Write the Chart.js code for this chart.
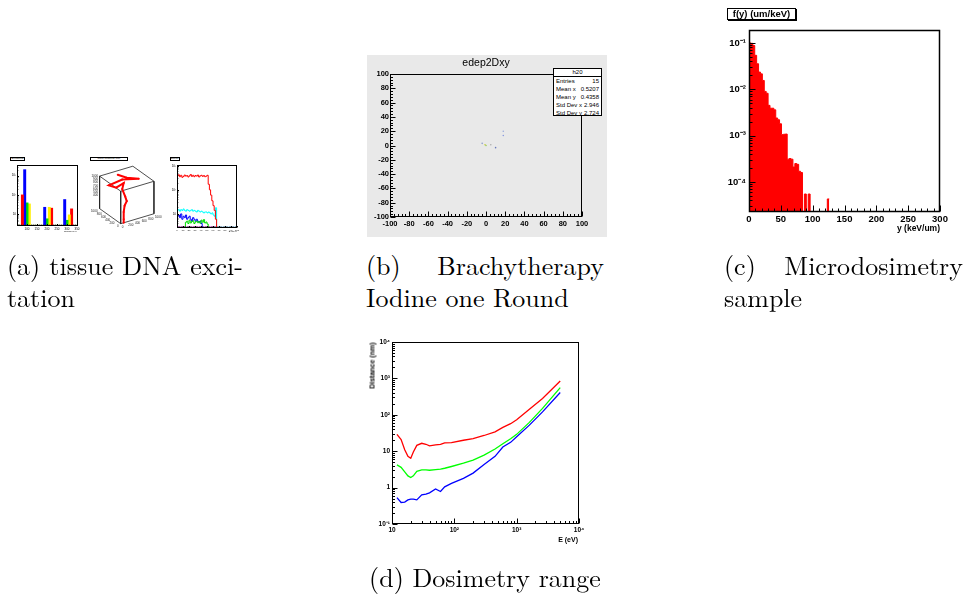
<!DOCTYPE html>
<html>
<head>
<meta charset="utf-8">
<script src="https://cdn.jsdelivr.net/npm/chart.js@4.4.1/dist/chart.umd.min.js"></script>
<style>
  html, body { margin: 0; padding: 0; background: #fff; }
  #page { position: relative; width: 966px; height: 597px; overflow: hidden; }
  canvas, .abs { position: absolute; }
  .cap { position: absolute; font-family: 'Latin Modern Roman', 'Liberation Serif', serif; font-size: 26px; line-height: 32px; color: #000; white-space: nowrap; }
  .just { text-align: justify; text-align-last: justify; white-space: normal; }
  .rl { position: absolute; font-family: 'Liberation Sans', Arial, sans-serif; font-weight: bold; color: #000; white-space: nowrap; }
  .tbox { position: absolute; box-sizing: border-box; border: 1px solid #000; background: #fff; text-align: center; overflow: hidden; white-space: nowrap;
          font-family: 'Liberation Sans', Arial, sans-serif; color: #000; }
  #stats { position: absolute; left: 553px; top: 68px; width: 49px; height: 48px; box-sizing: border-box; border: 1px solid #000; background: #fff;
           font-family: 'Liberation Sans', Arial, sans-serif; font-size: 6px; color: #000; }
  #stats .hd { height: 7px; line-height: 7px; text-align: center; border-bottom: 1px solid #000; }
  #stats .row { display: flex; justify-content: space-between; height: 8px; line-height: 8px; padding: 0 2px; }
</style>
</head>
<body>
<div id="page">
  <!-- (a) three small ROOT panels -->
  <canvas id="excChart" width="80" height="76" style="left:5px;top:160px"></canvas>
  <div class="tbox" style="left:10px;top:157px;width:15px;height:4px;font-size:2.5px;line-height:2.5px">Excitations</div>
  <div class="rl" style="left:60px;top:229.5px;width:17px;text-align:right;font-size:2.5px;line-height:3px;font-weight:normal">Energy(eV)</div>

  <canvas id="trackChart" width="85" height="82" style="left:85px;top:152px"></canvas>
  <div class="tbox" style="left:90px;top:157px;width:38px;height:4px;font-size:2.5px;line-height:2.5px">Track Positions (nm)</div>

  <canvas id="specChart" width="80" height="86" style="left:165px;top:152px"></canvas>
  <div class="tbox" style="left:170px;top:157px;width:10px;height:4px;font-size:2.5px;line-height:2.5px">Energy</div>
  <div class="rl" style="left:220px;top:230px;width:17px;text-align:right;font-size:2.5px;line-height:3px;font-weight:normal">E (keV)</div>

  <!-- (b) edep2Dxy -->
  <div class="abs" style="left:367px;top:55px;width:240px;height:182px;background:#e9e9e9"></div>
  <canvas id="edepChart" width="240" height="182" style="left:367px;top:55px"></canvas>
  <div class="rl" style="left:436px;top:56px;width:100px;text-align:center;font-size:10.5px;line-height:12px;font-weight:normal">edep2Dxy</div>
  <div id="stats"></div>

  <!-- (c) microdosimetry -->
  <canvas id="fyChart" width="250" height="215" style="left:705px;top:20px"></canvas>
  <div class="tbox" style="left:727px;top:8px;width:69px;height:12px;font-size:9.5px;line-height:10px;font-weight:bold;box-shadow:1px 1px 0 #000">f(y) (um/keV)</div>
  <div class="rl" style="left:870px;top:223px;width:70px;text-align:right;font-size:8.5px;line-height:10px">y (keV/um)</div>

  <!-- (d) dosimetry range -->
  <canvas id="rangeChart" width="240" height="215" style="left:355px;top:335px"></canvas>
  <div class="rl" style="left:332px;top:377.5px;width:80px;height:9px;text-align:right;font-size:7px;line-height:9px;transform:rotate(-90deg)">Distance (nm)</div>
  <div class="rl" style="left:518px;top:535px;width:60px;text-align:right;font-size:7px;line-height:10px">E (eV)</div>

  <!-- captions -->
  <div class="cap just" style="left:7px;top:248.5px;width:236px">(a) tissue DNA exci-</div>
  <div class="cap" style="left:7px;top:280.5px">tation</div>
  <div class="cap just" style="left:366px;top:248.5px;width:238px">(b) Brachytherapy</div>
  <div class="cap" style="left:366px;top:280.5px">Iodine one Round</div>
  <div class="cap just" style="left:724px;top:248.5px;width:239px">(c) Microdosimetry</div>
  <div class="cap" style="left:724px;top:280.5px">sample</div>
  <div class="cap" style="left:366px;top:561px;width:238px;text-align:center">(d) Dosimetry range</div>
</div>

<script>
// --- (a) left: excitation counts per process, three groups ---
const EXC_X = [100, 200, 300];
const EXC_RED_LEFT = [98, null, null];
const EXC_BLUE = [2050, 22, 56];
const EXC_GREEN = [37.5, 5.5, 4.6];
const EXC_YELLOW = [33, 22, 8.8];
const EXC_RED = [null, 19.8, 18.2];
const EXC_BASE = 2.45;
const EXC_X_TICKS = [100, 150, 200, 250, 300, 350];
const EXC_Y_TICKS = [10, 100, 1000];

// --- (a) middle: 3D track (nm) ---
const TRACK_X = [966, 700, 477, 709, 667, 460, 566, 456, 291, 211, 182, 127, 17, 0];
const TRACK_Y = [524, 627, 848, 496, 69, 156, 449, 336, 321, 316, 233, 171, 101, 90];
const TRACK_Z = [900, 900, 900, 880, 850, 850, 850, 750, 600, 500, 400, 250, 100, 0];
const TRACK_Z_TICKS = [400, 500, 600, 700, 800, 900, 1000];
const TRACK_XY_TICKS = [0, 200, 400, 600, 800, 1000];

// --- (a) right: spectra, bins of 2 keV from 0 ---
const SPEC_BIN = 2;
const SPEC_RED = [380, 420, 350, 400, 330, 360, 410, 370, 390, 340, 380, 430, 360, 400, 350, 390, 370, 410, 340, 380,
  400, 360, 390, 350, 370, 400, 170, 100, 60, 35, 22, 14, 6, 0, 0, 0, 0, 0, 0, 0,
  0, 0, 0, 0, 0, 0, 0, 0, 0, 0];
const SPEC_CYAN = [14, 15, 13, 15, 14, 16, 14, 13, 15, 14, 13, 14, 15, 13, 14, 13, 12, 14, 13, 12,
  13, 12, 11, 12, 12, 11, 12, 11, 10, 11, 9, 8, 18, 0, 0, 0, 0, 0, 0, 0,
  0, 0, 0, 0, 0, 0, 0, 0, 0, 0];
const SPEC_BLUE = [8, 9, 7, 10, 6, 8, 7, 9, 6, 7, 8, 6, 5, 7, 6, 5, 6, 5, 4.5, 5,
  4, 0, 0, 0, 0, 0, 0, 0, 0, 0, 0, 0, 0, 0, 0, 0, 0, 0, 0, 0,
  0, 0, 0, 0, 0, 0, 0, 0, 0, 0];
const SPEC_GREEN = [0, 0, 0, 0, 0, 0, 0, 4.5, 5, 4, 5.5, 4.2, 4.8, 5.2, 4, 4.6, 5, 4.3, 4.8, 4.1,
  5.5, 4.5, 5.8, 4.2, 4.6, 3.8, 0, 0, 0, 0, 0, 0, 0, 0, 0, 0, 0, 0, 0, 0,
  0, 0, 0, 0, 0, 0, 0, 0, 0, 0];
const SPEC_MAGENTA_RANGE = [0, 64];
const SPEC_LIGHTBLUE_RANGE = [64, 100];
const SPEC_X_TICKS = [0, 10, 20, 30, 40, 50, 60, 70, 80, 90, 100];
const SPEC_Y_TICKS = [10, 100, 1000];

// --- (b) edep2Dxy ---
const EDEP_X = [-4, -1, 0, 5, 10, 18, 18];
const EDEP_Y = [3, 1, 0, 1, -3, 14, 20];
const EDEP_COLORS = ["#8899cc", "#cccc33", "#99cc66", "#aaaaaa", "#6677bb", "#8899dd", "#99aadd"];
const EDEP_TICKS = [-100, -80, -60, -40, -20, 0, 20, 40, 60, 80, 100];
const EDEP_STATS = [
  ["Entries", "15"],
  ["Mean x", "0.5207"],
  ["Mean y", "0.4358"],
  ["Std Dev x", "2.946"],
  ["Std Dev y", "2.724"],
];

// --- (c) f(y), bins of 3 keV/um from 0 ---
const FY_BIN = 3;
const FY_VALUES = [0.1, 0.098, 0.088, 0.054, 0.0355, 0.0235, 0.0215, 0.0155, 0.009, 0.0082,
  0.0045, 0.0039, 0.0039, 0.0036, 0.0024, 0.0022, 0.0018, 0.00105, 0.00107, 0.00108,
  0.00031, 0.00032, 0.00031, 0.00021, 0.00025, 0.00024, 0.00017, 0.00016, 0, 5.5e-5,
  0, 5.5e-5, 0, 0, 0, 0, 0, 0, 0, 0, 0, 4.3e-5];
const FY_X_TICKS = [0, 50, 100, 150, 200, 250, 300];
const FY_Y_TICKS = [1e-4, 1e-3, 1e-2, 1e-1];

// --- (d) range vs energy ---
const RANGE_E = [12, 14, 16, 18, 20, 22, 25, 30, 35, 40, 50, 60, 70, 90, 140, 200, 300, 450, 600, 800, 1000, 1600, 2600, 5000];
const RANGE_RED = [29, 21, 11, 7.2, 6.4, 9.5, 14.5, 16.5, 15.5, 14, 15, 15.5, 17, 17.3, 20, 22, 27, 34, 45, 57, 73, 142, 280, 850];
const RANGE_GREEN = [4.2, 3.6, 2.7, 2.1, 1.9, 2.1, 2.8, 3.05, 3.05, 3.0, 3.1, 3.2, 3.4, 3.8, 4.7, 5.7, 7.8, 11.5, 16, 22, 29, 62, 150, 560];
const RANGE_BLUE = [0.53, 0.39, 0.4, 0.46, 0.48, 0.48, 0.46, 0.63, 0.66, 0.72, 0.92, 0.78, 1.05, 1.3, 1.8, 2.5, 4.3, 7.2, 13, 17.5, 25, 52, 120, 410];
const RANGE_X_TICKS = [10, 100, 1000, 10000];
const RANGE_Y_TICKS = [0.1, 1, 10, 100, 1000, 10000];

// --- helpers ---
const FONT = "'Liberation Sans', Arial, sans-serif";
const SUP = { "-": "\u207B", 0: "\u2070", 1: "\u00B9", 2: "\u00B2", 3: "\u00B3", 4: "\u2074", 5: "\u2075", 6: "\u2076", 7: "\u2077", 8: "\u2078", 9: "\u2079" };

function powLabel(v) {
  const l = Math.log10(v);
  const e = Math.round(l);
  if (Math.abs(l - e) > 1e-6) return "";
  if (e === 0) return "1";
  if (e === 1) return "10";
  return "10" + String(e).split("").map((c) => SUP[c]).join("");
}

function axis(o) {
  return {
    type: o.type || "linear",
    min: o.min,
    max: o.max,
    reverse: !!o.reverse,
    display: o.display !== false,
    offset: false,
    grid: { display: false, drawTicks: false, offset: false },
    border: { display: false },
    afterFit: (s) => {
      if (o.size === undefined) return;
      if (s.isHorizontal()) s.height = o.size;
      else s.width = o.size;
    },
    afterBuildTicks: (s) => {
      if (o.ticks) s.ticks = o.ticks.map((v) => ({ value: v }));
    },
    ticks: {
      autoSkip: false,
      maxRotation: 0,
      minRotation: 0,
      padding: o.pad === undefined ? 2 : o.pad,
      color: "#000",
      font: { family: FONT, weight: o.bold === false ? "normal" : "bold", size: o.font || 7 },
      callback: o.label || ((v) => String(v)),
    },
  };
}

function markValues(s, ax) {
  const out = [];
  if (s.type === "logarithmic") {
    const e0 = Math.floor(Math.log10(s.min));
    const e1 = Math.ceil(Math.log10(s.max));
    for (let e = e0; e <= e1; e++) {
      for (let m = 1; m <= 9; m++) {
        const v = m * Math.pow(10, e);
        if (v >= s.min * 0.9999 && v <= s.max * 1.0001) out.push([v, m === 1]);
      }
    }
  } else {
    const k0 = Math.ceil(s.min / ax.minor - 1e-9);
    for (let k = k0; k * ax.minor <= s.max + 1e-9; k++) {
      const v = k * ax.minor;
      out.push([v, Math.abs(v / ax.major - Math.round(v / ax.major)) < 1e-6]);
    }
  }
  return out;
}

// ROOT style frame with ticks pointing into the plot
function rootAxes(cfg) {
  return {
    id: "rootAxes",
    afterDatasetsDraw(chart) {
      const { ctx, chartArea: a } = chart;
      const l = Math.round(a.left) + 0.5;
      const r = Math.round(a.right) - 0.5;
      const t = Math.round(a.top) + 0.5;
      const b = Math.round(a.bottom) - 0.5;
      ctx.save();
      ctx.strokeStyle = "#000";
      ctx.lineWidth = cfg.lineWidth || 1;
      ctx.strokeRect(l, t, r - l, b - t);
      ctx.lineWidth = cfg.tickWidth || 1;
      cfg.axes.forEach((ax) => {
        const s = chart.scales[ax.id];
        markValues(s, ax).forEach(([v, major]) => {
          const p = Math.round(s.getPixelForValue(v)) + 0.5;
          const len = major ? ax.len : ax.len * 0.5;
          ctx.beginPath();
          if (s.isHorizontal()) {
            ctx.moveTo(p, b);
            ctx.lineTo(p, b - len);
          } else {
            ctx.moveTo(l, p);
            ctx.lineTo(l + len, p);
          }
          ctx.stroke();
        });
      });
      ctx.restore();
    },
  };
}

function makeChart(id, type, datasets, scales, padding, plugins) {
  return new Chart(document.getElementById(id), {
    type: type,
    data: { datasets: datasets },
    options: {
      responsive: false,
      animation: false,
      events: [],
      layout: { padding: padding },
      plugins: { legend: { display: false }, tooltip: { enabled: false } },
      scales: scales,
    },
    plugins: plugins || [],
  });
}

function histPoints(values, width, floor) {
  const pts = values.map((v, i) => ({ x: i * width, y: v > 0 ? v : floor }));
  pts.push({ x: values.length * width, y: values[values.length - 1] > 0 ? values[values.length - 1] : floor });
  return pts;
}

function stepLine(values, width, floor, color, lw) {
  return {
    type: "line",
    data: histPoints(values, width, floor),
    borderColor: color,
    borderWidth: lw,
    pointRadius: 0,
    stepped: "before",
    fill: false,
  };
}

// projection of the 3D box (box units 0..1000 nm on each axis)
function project(x, y, z) {
  const u = x / 1000, w = y / 1000, h = z / 1000;
  return { x: 35 - 23.3 * u + 36.7 * w, y: 75 - 16.7 * u - 11 * w - 36 * h };
}

// --- (a) left ---
function excBars(values, color) {
  return {
    type: "bar",
    data: EXC_X.map((x, i) => ({ x: x, y: values[i] })),
    backgroundColor: color,
    borderWidth: 0,
    barThickness: 2.3,
  };
}
makeChart(
  "excChart",
  "bar",
  [
    excBars(EXC_RED_LEFT, "#ff0000"),
    excBars(EXC_BLUE, "#0000ff"),
    excBars(EXC_GREEN, "#00dd00"),
    excBars(EXC_YELLOW, "#ffee00"),
    excBars(EXC_RED, "#ff0000"),
    {
      type: "line",
      data: [{ x: 50, y: EXC_BASE }, { x: 355, y: EXC_BASE }],
      borderColor: "#8c9c3c",
      borderWidth: 1.6,
      pointRadius: 0,
    },
  ],
  {
    x: axis({ min: 50, max: 355, size: 10, ticks: EXC_X_TICKS, font: 3, pad: 1, bold: false }),
    y: axis({ type: "logarithmic", min: 2.3, max: 3600, size: 12, ticks: EXC_Y_TICKS, font: 3, pad: 1, label: powLabel, bold: false }),
  },
  { top: 5, right: 7, left: 0, bottom: 0 },
  [rootAxes({ lineWidth: 1, axes: [{ id: "x", len: 1.5, major: 50, minor: 10 }, { id: "y", len: 1.5 }] })]
);

// --- (a) middle ---
const CUBE_EDGES = [
  [[1000, 0, 1000], [1000, 1000, 1000]], [[1000, 1000, 1000], [0, 1000, 1000]],
  [[0, 1000, 1000], [0, 0, 1000]], [[0, 0, 1000], [1000, 0, 1000]],
  [[1000, 0, 1000], [1000, 0, 0]], [[0, 0, 1000], [0, 0, 0]], [[0, 1000, 1000], [0, 1000, 0]],
  [[1000, 0, 0], [0, 0, 0]], [[0, 0, 0], [0, 1000, 0]],
];
const cubePts = [];
CUBE_EDGES.forEach(([p, q]) => {
  cubePts.push(project(...p), project(...q), { x: null, y: null });
});
const cubeLabels = {
  id: "cubeLabels",
  afterDatasetsDraw(chart) {
    const { ctx } = chart;
    const sx = chart.scales.x;
    const sy = chart.scales.y;
    const put = (p, txt, dx, dy, align) => {
      ctx.textAlign = align;
      ctx.fillText(txt, sx.getPixelForValue(p.x) + dx, sy.getPixelForValue(p.y) + dy);
    };
    ctx.save();
    ctx.font = "3px " + FONT;
    ctx.fillStyle = "#222";
    ctx.textBaseline = "middle";
    TRACK_Z_TICKS.forEach((z) => put(project(1000, 0, z), String(z), -1.5, 0, "right"));
    TRACK_XY_TICKS.forEach((v) => put(project(v, 0, 0), String(v), -2, 2.5, "right"));
    TRACK_XY_TICKS.forEach((v) => put(project(0, v, 0), String(v), 1, 3, "left"));
    ctx.restore();
  },
};
makeChart(
  "trackChart",
  "scatter",
  [
    {
      data: TRACK_X.map((x, i) => project(x, TRACK_Y[i], TRACK_Z[i])),
      showLine: true,
      borderColor: "#ff0000",
      borderWidth: 2,
      pointRadius: 1,
      pointBackgroundColor: "#ff0000",
      pointBorderWidth: 0,
    },
    {
      data: cubePts,
      showLine: true,
      spanGaps: false,
      borderColor: "#222",
      borderWidth: 0.8,
      pointRadius: 0,
    },
  ],
  {
    x: axis({ min: 0, max: 85, display: false }),
    y: axis({ min: 0, max: 82, reverse: true, display: false }),
  },
  0,
  [cubeLabels]
);

// --- (a) right ---
const specFloor = 1e-3;
makeChart(
  "specChart",
  "line",
  [
    stepLine(SPEC_RED, SPEC_BIN, specFloor, "#ff0000", 1),
    stepLine(SPEC_CYAN, SPEC_BIN, specFloor, "#00ffff", 1),
    stepLine(SPEC_GREEN, SPEC_BIN, specFloor, "#00dd00", 1),
    stepLine(SPEC_BLUE, SPEC_BIN, specFloor, "#0000ff", 1),
    { type: "line", data: SPEC_MAGENTA_RANGE.map((x) => ({ x: x, y: 2.75 })), borderColor: "#cc33cc", borderWidth: 1.6, pointRadius: 0 },
    { type: "line", data: SPEC_LIGHTBLUE_RANGE.map((x) => ({ x: x, y: 2.75 })), borderColor: "#66bbee", borderWidth: 1.6, pointRadius: 0 },
  ],
  {
    x: axis({ min: 0, max: 100, size: 10, ticks: SPEC_X_TICKS, font: 2.5, pad: 1, bold: false }),
    y: axis({ type: "logarithmic", min: 2.6, max: 1070, size: 12, ticks: SPEC_Y_TICKS, font: 3, pad: 1, label: powLabel, bold: false }),
  },
  { top: 13, right: 8, left: 0, bottom: 0 },
  [rootAxes({ lineWidth: 1, axes: [{ id: "x", len: 1.5, major: 10, minor: 2 }, { id: "y", len: 1.5 }] })]
);

// --- (b) ---
makeChart(
  "edepChart",
  "scatter",
  [
    {
      data: EDEP_X.map((x, i) => ({ x: x, y: EDEP_Y[i] })),
      pointRadius: 0.8,
      pointBorderWidth: 0,
      pointBackgroundColor: EDEP_COLORS,
    },
  ],
  {
    x: axis({ min: -100, max: 100, size: 20, ticks: EDEP_TICKS, font: 7.5, pad: 2 }),
    y: axis({ min: -100, max: 100, size: 23, ticks: EDEP_TICKS, font: 7.5, pad: 1 }),
  },
  { top: 19, right: 25, left: 0, bottom: 0 },
  [rootAxes({ lineWidth: 1, axes: [{ id: "x", len: 5, major: 20, minor: 4 }, { id: "y", len: 5, major: 20, minor: 4 }] })]
);
const statsEl = document.getElementById("stats");
statsEl.innerHTML =
  '<div class="hd">h20</div>' +
  EDEP_STATS.map((r) => `<div class="row"><span>${r[0]}</span><span>${r[1]}</span></div>`).join("");

// --- (c) ---
makeChart(
  "fyChart",
  "line",
  [
    {
      data: histPoints(FY_VALUES, FY_BIN, 1e-9),
      borderColor: "#ff0000",
      backgroundColor: "#ff0000",
      borderWidth: 1,
      pointRadius: 0,
      stepped: "before",
      fill: "start",
    },
  ],
  {
    x: axis({ min: 0, max: 300, size: 23, ticks: FY_X_TICKS, font: 9.5, pad: 2 }),
    y: axis({ type: "logarithmic", min: 2.25e-5, max: 0.19, size: 44, ticks: FY_Y_TICKS, font: 9.5, pad: 3, label: powLabel }),
  },
  { top: 10, right: 15, left: 0, bottom: 0 },
  [rootAxes({ lineWidth: 1.5, axes: [{ id: "x", len: 6, major: 50, minor: 10 }, { id: "y", len: 6 }] })]
);

// --- (d) ---
function rangeLine(values, color) {
  return {
    data: RANGE_E.map((e, i) => ({ x: e, y: values[i] })),
    borderColor: color,
    borderWidth: 1.3,
    pointRadius: 0,
    tension: 0,
    fill: false,
  };
}
makeChart(
  "rangeChart",
  "line",
  [rangeLine(RANGE_RED, "#ff0000"), rangeLine(RANGE_GREEN, "#00ff00"), rangeLine(RANGE_BLUE, "#0000ff")],
  {
    x: axis({ type: "logarithmic", min: 10, max: 10000, size: 26, ticks: RANGE_X_TICKS, font: 6.5, pad: 2, label: powLabel }),
    y: axis({ type: "logarithmic", min: 0.1, max: 10000, size: 37, ticks: RANGE_Y_TICKS, font: 6.5, pad: 2, label: powLabel }),
  },
  { top: 7, right: 16, left: 0, bottom: 0 },
  [rootAxes({ lineWidth: 1, axes: [{ id: "x", len: 5 }, { id: "y", len: 5 }] })]
);
</script>
</body>
</html>
